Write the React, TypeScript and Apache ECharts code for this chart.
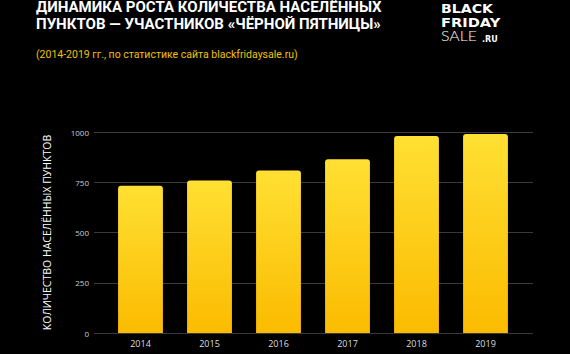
import React, { useEffect, useRef } from "react";
import * as echarts from "echarts";

const years = ["2014", "2015", "2016", "2017", "2018", "2019"];
const cities = [732, 759, 808, 865, 980, 990];
const yTicks = [0, 250, 500, 750, 1000];

const titleLines = ["ДИНАМИКА РОСТА КОЛИЧЕСТВА НАСЕЛЁННЫХ", "ПУНКТОВ — УЧАСТНИКОВ «ЧЁРНОЙ ПЯТНИЦЫ»"];
const subtitle = "(2014-2019 гг., по статистике сайта blackfridaysale.ru)";
const yName = "КОЛИЧЕСТВО НАСЕЛЁННЫХ ПУНКТОВ";

export default function App() {
  const ref = useRef<HTMLDivElement>(null);
  useEffect(() => {
    if (!ref.current) return;
    const chart = echarts.init(ref.current, null, { renderer: "svg" });
    const font = "'Open Sans', 'DejaVu Sans', sans-serif";
    const titleFont = "Roboto, 'Open Sans', sans-serif";
    const logoFont = "'DejaVu Sans', sans-serif";
    chart.setOption({
      animation: false,
      backgroundColor: "#000000",
      textStyle: { fontFamily: font },
      graphic: [
        { type: "text", x: 36, y: 0, scaleX: 1.075, style: { text: titleLines[0], fill: "#fff", fontSize: 14, fontWeight: "bold", lineHeight: 16, fontFamily: titleFont } },
        { type: "text", x: 36, y: 16.5, scaleX: 1.075, style: { text: titleLines[1], fill: "#fff", fontSize: 14, fontWeight: "bold", lineHeight: 16, fontFamily: titleFont } },
        { type: "text", left: 36, top: 49, style: { text: subtitle, fill: "#f2c200", fontSize: 10.5, fontFamily: "'Liberation Sans Narrow', 'Roboto', sans-serif" } },
        { type: "text", x: 441, y: 3, scaleX: 1.18, style: { text: "BLACK", fill: "#fff", fontSize: 12, fontWeight: "bold", lineHeight: 12, fontFamily: logoFont } },
        { type: "text", x: 441, y: 17, scaleX: 1.22, style: { text: "FRIDAY", fill: "#fff", fontSize: 12, fontWeight: "bold", lineHeight: 12, fontFamily: logoFont } },
        { type: "text", x: 441, y: 30, scaleX: 1.22, style: { text: "SALE", fill: "#fff", fontSize: 13, fontWeight: 300, lineHeight: 13, fontFamily: "'Lato', sans-serif" } },
        { type: "text", x: 482, y: 35, style: { text: ".RU", fill: "#fff", fontSize: 8, fontWeight: "bold", lineHeight: 8, fontFamily: logoFont } },
      ],
      grid: [
        { left: 94, right: 37, top: 132, bottom: 21 },
        { left: 106, right: 50, top: 132, bottom: 21 },
      ],
      xAxis: [
        { type: "value", gridIndex: 0, show: false, min: 0, max: 1 },
        {
          type: "category",
          gridIndex: 1,
          data: years,
          axisLine: { show: false },
          axisTick: { show: false },
          axisLabel: { color: "#dddddd", fontSize: 9, margin: 6 },
        },
      ],
      yAxis: [
        {
          type: "value",
          gridIndex: 0,
          min: 0,
          max: 1000,
          interval: 250,
          axisLine: { show: false },
          axisTick: { show: false },
          axisLabel: { color: "#cccccc", fontSize: 8, margin: 5, customValues: yTicks, formatter: (v: number) => String(v) },
          splitLine: { lineStyle: { color: "#3a3a3a", width: 1 } },
          name: yName,
          nameLocation: "middle",
          nameGap: 42,
          nameTextStyle: { color: "#ffffff", fontSize: 10.5 },
        },
        { type: "value", gridIndex: 1, min: 0, max: 1000, interval: 250, show: false },
      ],
      series: [
        {
          type: "bar",
          xAxisIndex: 1,
          yAxisIndex: 1,
          data: cities,
          barWidth: "65%",
          itemStyle: {
            borderRadius: [3, 3, 0, 0],
            color: new echarts.graphic.LinearGradient(0, 0, 0, 1, [
              { offset: 0, color: "#ffe033" },
              { offset: 1, color: "#fbbb00" },
            ]),
          },
        },
      ],
    });
    return () => chart.dispose();
  }, []);
  return <div ref={ref} style={{ position: "fixed", left: 0, top: 0, width: 570, height: 354 }} />;
}
